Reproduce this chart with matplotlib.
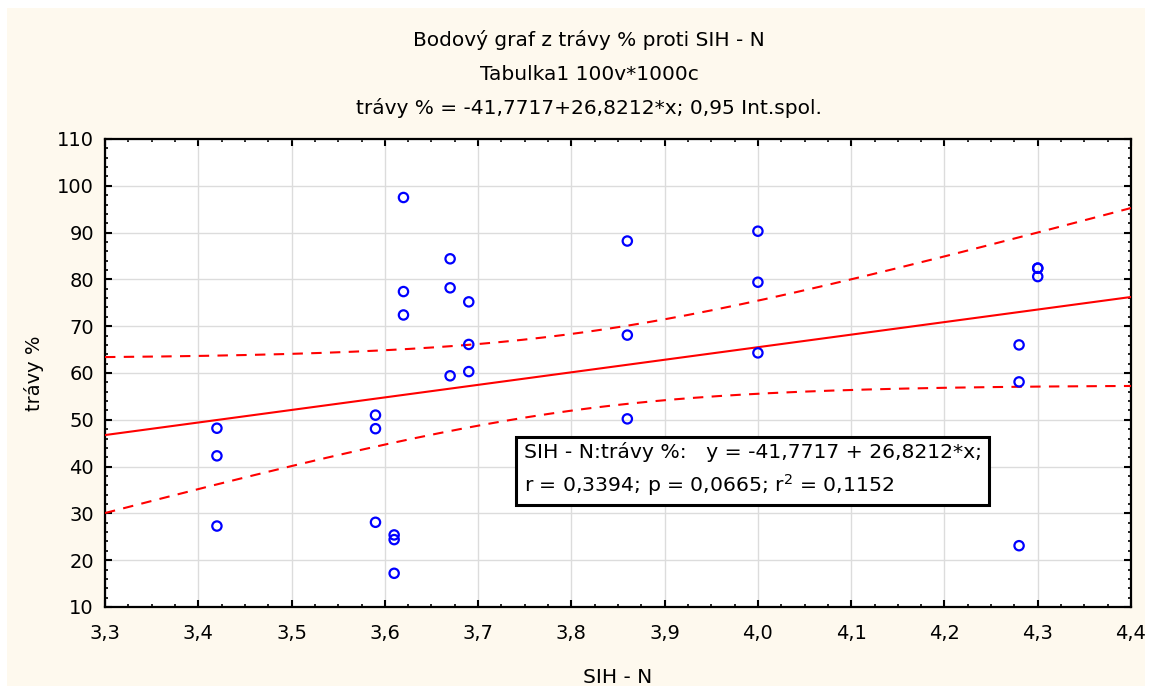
import numpy as np
import matplotlib
matplotlib.use("Agg")
import matplotlib.pyplot as plt
from matplotlib.patches import Rectangle
from matplotlib.ticker import MultipleLocator, FuncFormatter

plt.rcParams['font.family'] = ['DejaVu Sans']

# SIH - N vs. trávy %
sih_n = [3.42, 3.42, 3.42,
         3.59, 3.59, 3.59,
         3.61, 3.61, 3.61,
         3.62, 3.62, 3.62,
         3.67, 3.67, 3.67,
         3.69, 3.69, 3.69,
         3.86, 3.86, 3.86,
         4.00, 4.00, 4.00,
         4.28, 4.28, 4.28,
         4.30, 4.30, 4.30]
travy = [48.2, 42.3, 27.3,
         51.0, 48.1, 28.1,
         25.4, 24.4, 17.2,
         97.5, 77.4, 72.4,
         84.4, 78.2, 59.4,
         75.2, 66.1, 60.3,
         88.2, 68.1, 50.2,
         90.3, 79.4, 64.3,
         66.0, 58.1, 23.1,
         82.4, 82.4, 80.6]

# fitted line as reported
intercept = -41.7717
slope = 26.8212
r_val = 0.3394
p_val = 0.0665
r2_val = 0.1152
t_crit = 2.048  # t(0.975, 28)


def cz(v, nd=4):
    return f"{v:.{nd}f}".replace('.', ',')


x = np.array(sih_n)
y = np.array(travy)
n = len(x)
resid = y - (intercept + slope * x)
s = np.sqrt(np.sum(resid ** 2) / (n - 2))
sxx = np.sum((x - x.mean()) ** 2)

xs = np.linspace(3.3, 4.4, 200)
fit = intercept + slope * xs
half = t_crit * s * np.sqrt(1.0 / n + (xs - x.mean()) ** 2 / sxx)

fig = plt.figure(figsize=(11.52, 6.93), dpi=100, facecolor='white')
W, H = 1152, 693
fig.patches.append(Rectangle((7 / W, 7 / H), 1 - 14 / W, 1 - 15 / H,
                             transform=fig.transFigure, facecolor='#FEF9EE',
                             edgecolor='none', zorder=-10))

ax = fig.add_axes([105 / W, 1 - 607 / H, 1026 / W, 468 / H])
ax.set_facecolor('white')

ax.plot(xs, fit, color='#FF0000', lw=1.5, zorder=3)
ax.plot(xs, fit + half, color='#FF0000', lw=1.5, ls=(0, (5, 4)), zorder=3)
ax.plot(xs, fit - half, color='#FF0000', lw=1.5, ls=(0, (5, 4)), zorder=3)
ax.scatter(x, y, s=45, facecolors='none', edgecolors='#0000FF',
           linewidths=1.6, zorder=4)

ax.set_xlim(3.3, 4.4)
ax.set_ylim(10, 110)
ax.xaxis.set_major_locator(MultipleLocator(0.1))
ax.xaxis.set_minor_locator(MultipleLocator(0.025))
ax.yaxis.set_major_locator(MultipleLocator(10))
ax.yaxis.set_minor_locator(MultipleLocator(2))
ax.xaxis.set_major_formatter(FuncFormatter(lambda v, _: cz(v, 1)))
ax.yaxis.set_major_formatter(FuncFormatter(lambda v, _: f"{v:.0f}"))

ax.grid(True, which='major', color='#DCDCDC', lw=1.0, zorder=0)
ax.set_axisbelow(True)
for sp in ax.spines.values():
    sp.set_linewidth(1.6)
    sp.set_color('black')
ax.tick_params(which='both', direction='in', top=True, right=True,
               labelsize=14, colors='black')
ax.tick_params(which='major', length=5, width=1.5)
ax.tick_params(axis='x', which='major', pad=12)
ax.tick_params(axis='y', which='major', pad=8)
ax.tick_params(which='minor', length=2.5, width=1.2)

ax.set_xlabel("SIH - N", fontsize=14.5, labelpad=18)
ax.set_ylabel("trávy %", fontsize=14, labelpad=9)

# title block
tx = 589 / W
fig.text(tx, 1 - 40 / H, "Bodový graf z trávy % proti SIH - N",
         ha='center', va='center', fontsize=14.5)
fig.text(tx, 1 - 74 / H, "Tabulka1 100v*1000c",
         ha='center', va='center', fontsize=14.5)
fig.text(tx, 1 - 108 / H,
         f"trávy % = {cz(intercept)}+{cz(slope)}*x; 0,95 Int.spol.",
         ha='center', va='center', fontsize=14.5)

eq = (f"SIH - N:trávy %:   y = {cz(intercept)} + {cz(slope)}*x;\n"
      f"r = {cz(r_val)}; p = {cz(p_val)}; $\\mathregular{{r^2}}$ = {cz(r2_val)}")
ax.text(0.408, 0.293, eq, transform=ax.transAxes, fontsize=14.7,
        ha='left', va='center', linespacing=1.5, zorder=6,
        bbox=dict(boxstyle='square,pad=0.35', facecolor='white',
                  edgecolor='black', linewidth=2.2))

fig.savefig("out.png", dpi=100, facecolor='white')
